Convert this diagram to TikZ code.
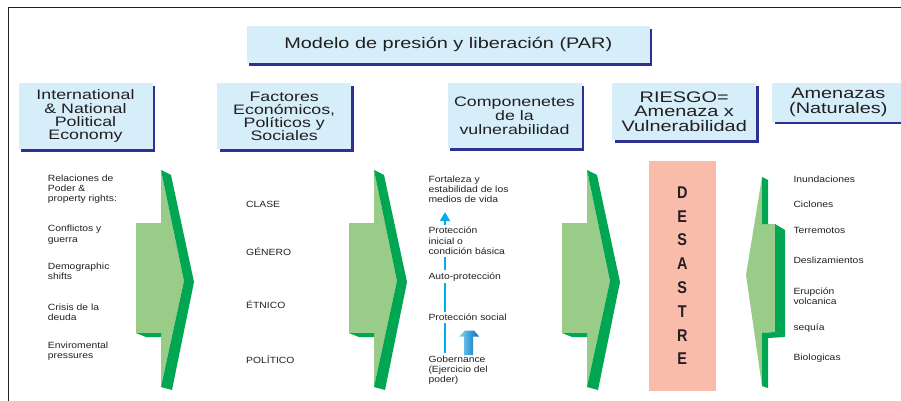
\documentclass[tikz,border=0pt]{standalone}
\usepackage{fontspec}
\setmainfont[FakeStretch=1.3]{Liberation Sans}
\newfontfamily\smallfont[FakeStretch=1.15]{Liberation Sans}
\newfontfamily\desfont[FakeStretch=0.85]{Liberation Sans}
\usetikzlibrary{shadows,arrows.meta}

\definecolor{boxblue}{RGB}{213,238,249}
\definecolor{boxnavy}{RGB}{46,49,146}
\definecolor{ltgreen}{RGB}{153,204,136}
\definecolor{dkgreen}{RGB}{0,166,81}
\definecolor{salmon}{RGB}{249,188,171}
\definecolor{lineblue}{RGB}{0,174,239}
\definecolor{txtgray}{RGB}{35,31,32}

\begin{document}
\begin{tikzpicture}[x=1pt,y=-1pt,
    hdr/.style={fill=boxblue,align=center,text=txtgray,inner sep=0pt,
      drop shadow={shadow xshift=2.5pt,shadow yshift=-2.5pt,fill=boxnavy,opacity=1}},
    small/.style={font=\smallfont\fontsize{9}{10.3}\selectfont,align=left,anchor=west,
      inner sep=2pt,text=txtgray},
    vline/.style={draw=lineblue,line width=1.8pt}]
    \useasboundingbox (0,0) rectangle (901,401);
    \clip (0,0) rectangle (901,401);

    % Frame
    \draw[line width=1pt,txtgray] (8.5,401) -- (8.5,7.5) -- (901,7.5);

    % Headers
    \node[hdr,minimum width=403pt,minimum height=37pt,
      font=\fontsize{15.3}{17}\selectfont] (par) at (448.3,44.7)
      {Modelo de presión y liberación (PAR)};
    \node[hdr,minimum width=134pt,minimum height=66pt,
      font=\fontsize{13.7}{13.2}\selectfont] (ipe) at (85.5,116.2)
      {International\\ \& National\\ Political\\ Economy};
    \node[hdr,minimum width=134pt,minimum height=66pt,
      font=\fontsize{13.7}{13.2}\selectfont] (fep) at (284.2,116.2)
      {Factores\\ Económicos,\\ Políticos y\\ Sociales};
    \node[hdr,minimum width=134pt,minimum height=65pt,
      font=\fontsize{13.7}{13.8}\selectfont] (cvu) at (514.5,115.8)
      {Componenetes\\ de la\\ vulnerabilidad};
    \node[hdr,minimum width=143.7pt,minimum height=56.7pt,
      font=\fontsize{15.3}{14.7}\selectfont] (rsg) at (684.2,111.7)
      {RIESGO=\\ Amenaza x\\ Vulnerabilidad};
    \node[hdr,minimum width=132pt,minimum height=38.4pt,
      font=\fontsize{15.3}{14.7}\selectfont] (amz) at (838.3,102.5)
      {Amenazas\\ (Naturales)};

    % Green arrows
    \foreach \dx in {0,213,426}{
    \begin{scope}[xshift=\dx]
      \fill[ltgreen] (136,223) -- (161,223) -- (161,170) -- (184,281)
        -- (161,387) -- (161,333) -- (136,333) -- cycle;
      \fill[dkgreen] (161,170) -- (171,175) -- (194,282) -- (172,390)
        -- (161,387) -- (184,281) -- cycle;
      \fill[dkgreen] (136,333) -- (161,333) -- (161,337) -- (146,337) -- cycle;
    \end{scope}
    }
    \fill[ltgreen] (762,177) -- (762,224) -- (775,224) -- (775,332)
      -- (762,333) -- (762,386) -- (746,275) -- cycle;
    \fill[dkgreen] (762,177) -- (768,180) -- (768,224) -- (762,224) -- cycle;
    \fill[dkgreen] (775,224) -- (785,230) -- (785,337) -- (775,332) -- cycle;
    \fill[dkgreen] (762,333) -- (775,332) -- (785,337) -- (768,338)
      -- (768,388) -- (762,386) -- cycle;

    % Desastre
    \node[fill=salmon,minimum width=66.7pt,minimum height=229.7pt,inner sep=0pt,
      align=center,text=txtgray,font=\desfont\bfseries\fontsize{17}{23.8}\selectfont]
      (des) at (682.3,275.8) {D\\E\\S\\A\\S\\T\\R\\E};

    % Column 1
    \node[small] (rel) at (45.7,189.3) {Relaciones de\\ Poder \&\\ property rights:};
    \node[small] (con) at (45.7,234.8) {Conflictos y\\ guerra};
    \node[small] (dem) at (45.7,271) {Demographic\\ shifts};
    \node[small] (cri) at (45.7,312) {Crisis de la\\ deuda};
    \node[small] (env) at (45.7,351.5) {Enviromental\\ pressures};

    % Column 2
    \node[small] (cla) at (244,204.3) {CLASE};
    \node[small] (gen) at (244,251.7) {GÉNERO};
    \node[small] (etn) at (244,305) {ÉTNICO};
    \node[small] (pol) at (244,360) {POLÍTICO};

    % Column 3
    \node[small] (fort) at (426.3,189.3) {Fortaleza y\\ estabilidad de los\\ medios de vida};
    \node[small] (pini) at (426.3,241) {Protección\\ inicial o\\ condición básica};
    \node[small] (auto) at (426.3,276.7) {Auto-protección};
    \node[small] (psoc) at (426.3,317.7) {Protección social};
    \node[small] (gob) at (426.3,370) {Gobernance\\ (Ejercicio del\\ poder)};

    \draw[vline] ([xshift=18.7pt]gob.north west) -- ([xshift=18.7pt]psoc.south west);
    \draw[vline] ([xshift=18.7pt]psoc.north west) -- ([xshift=18.7pt]auto.south west);
    \draw[vline] ([xshift=18.7pt]auto.north west) -- ([xshift=18.7pt]pini.south west);
    \draw[vline,-{Triangle[width=10pt,length=9pt]},shorten >=7pt]
      ([xshift=18.7pt]pini.north west) -- ([xshift=18.7pt]fort.south west);

    \shade[left color={rgb,255:red,130;green,212;blue,246},
      right color={rgb,255:red,0;green,110;blue,190}]
      (464,355) -- (464,336.5) -- (459,336.5) -- (465,330.5) -- (474,330.5)
      -- (479,336.5) -- (473,336.5) -- (473,355) -- cycle;

    % Column 5
    \node[small] (inu) at (791.3,179.3) {Inundaciones};
    \node[small] (cic) at (791.3,204.3) {Ciclones};
    \node[small] (ter) at (791.3,230) {Terremotos};
    \node[small] (dsl) at (791.3,260.7) {Deslizamientos};
    \node[small] (eru) at (791.3,296.3) {Erupción\\ volcanica};
    \node[small] (seq) at (791.3,327.7) {sequía};
    \node[small] (bio) at (791.3,358.3) {Biologicas};
\end{tikzpicture}
\end{document}
